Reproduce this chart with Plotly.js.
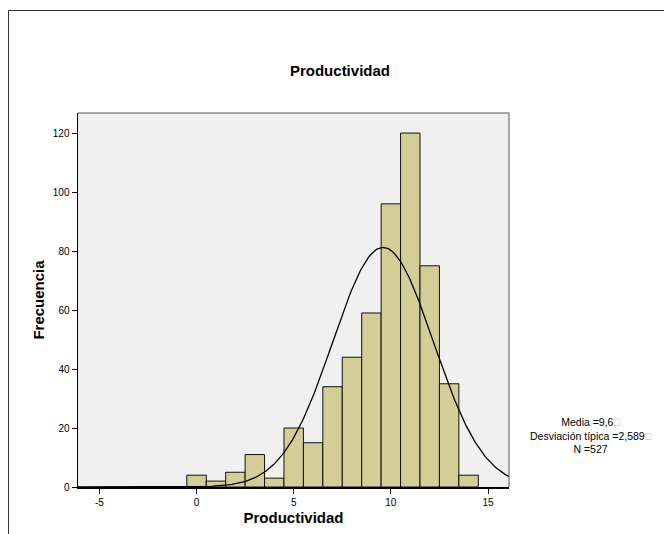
<!DOCTYPE html>
<html><head><meta charset="utf-8">
<script src="https://cdn.plot.ly/plotly-3.0.1.min.js"></script>
<style>html,body{margin:0;padding:0;background:#fff}#chart{width:664px;height:534px}</style>
</head><body><div id="chart"></div>
<script>
const binCenters = [0,1,2,3,4,5,6,7,8,9,10,11,12,13,14];
const frequencies = [4,2,5,11,3,20,15,34,44,59,96,120,75,35,4];
const mean = 9.6;
const sd = 2.589;
const n = 527;
const binWidth = 1;
const yTicks = [0,20,40,60,80,100,120];
const xTicks = [-5,0,5,10,15];

// fitted normal curve from the reported statistics
const cx = [], cy = [];
for (let i = 0; i <= 300; i++) {
  const x = -6.1 + i * (22.2 / 300);
  cx.push(x);
  cy.push(n * binWidth / (sd * Math.sqrt(2 * Math.PI)) * Math.exp(-0.5 * Math.pow((x - mean) / sd, 2)));
}

const L = 78, R = 509, T = 113, B = 487;
function px(p){ return (p - L) / (R - L); }
function py(p){ return (B - p) / (B - T); }

const traces = [
  {type:'bar', x: binCenters, y: frequencies, width: binWidth,
   marker:{color:'#d3ce98', line:{color:'#111', width:1}}, hoverinfo:'x+y'},
  {type:'scatter', mode:'lines', x: cx, y: cy, line:{color:'#000', width:1.3}, hoverinfo:'skip'}
];

const layout = {
  width:664, height:534,
  margin:{l:L, r:664-R, t:T, b:534-B},
  paper_bgcolor:'#fff', plot_bgcolor:'#f0f0f0',
  showlegend:false, bargap:0,
  font:{family:'Liberation Sans, Arial, sans-serif', color:'#000', size:10},
  title:{text:'<b>Productividad</b>', font:{size:15}, x:0.512, xanchor:'center', y:1-71/534, yanchor:'middle'},
  xaxis:{range:[-6.1,16.08], tickvals:xTicks, ticktext:xTicks.map(String), ticks:'outside', ticklen:5, tickcolor:'#000',
         showline:true, linecolor:'#000', linewidth:1.5, mirror:false, showgrid:false, zeroline:false,
         tickfont:{size:10},
         title:{text:'<b>Productividad</b>', font:{size:15}, standoff:6}},
  yaxis:{range:[0,126.8], tickvals:yTicks, ticks:'outside', ticklen:5, tickcolor:'#000',
         showline:true, linecolor:'#000', linewidth:1.5, mirror:false, showgrid:false, zeroline:false,
         tickfont:{size:10},
         title:{text:'<b>Frecuencia</b>', font:{size:15}, standoff:4}},
  shapes:[
    {type:'line', xref:'paper', yref:'paper', x0:0, x1:1, y0:1, y1:1, line:{color:'#555', width:1}},
    {type:'line', xref:'paper', yref:'paper', x0:1, x1:1, y0:0, y1:1, line:{color:'#555', width:1}},
    {type:'line', xref:'paper', yref:'paper', x0:px(8.5), x1:px(670), y0:py(10.5), y1:py(10.5), line:{color:'#333', width:1}},
    {type:'line', xref:'paper', yref:'paper', x0:px(8.5), x1:px(8.5), y0:py(10.5), y1:py(540), line:{color:'#333', width:1}}
  ],
  annotations:[
    {xref:'paper', yref:'paper', x:px(591), y:py(435), xanchor:'center', yanchor:'middle', showarrow:false,
     align:'center', font:{size:10.5},
     text:'Media =9,6<span style="color:#bbb">□</span><br>Desviación típica =2,589<span style="color:#bbb">□</span><br>N =527'}
  ]
};
Plotly.newPlot('chart', traces, layout, {displayModeBar:false, staticPlot:true});
</script></body></html>
